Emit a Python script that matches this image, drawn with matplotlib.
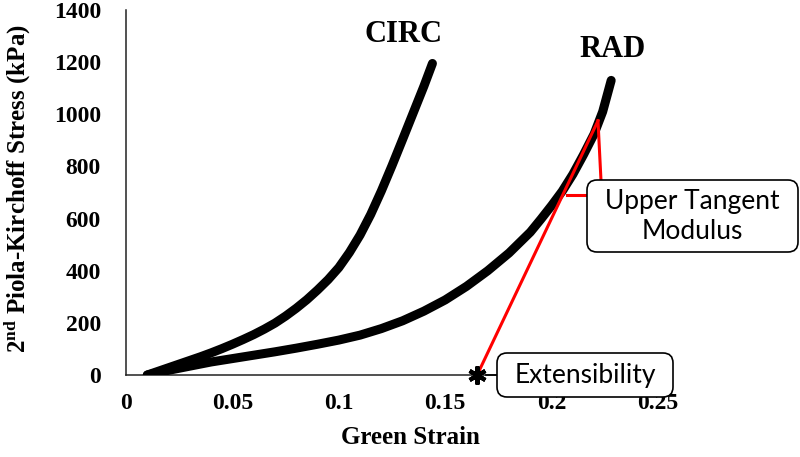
import numpy as np
import matplotlib
matplotlib.use('Agg')
import matplotlib.pyplot as plt
from matplotlib.patches import FancyBboxPatch

# values
circ_strain = [0.010, 0.015, 0.020, 0.025, 0.030, 0.035, 0.040, 0.045, 0.050,
               0.055, 0.060, 0.065, 0.070, 0.075, 0.080, 0.085, 0.090, 0.095,
               0.100, 0.105, 0.110, 0.115, 0.120, 0.125, 0.130, 0.135, 0.140,
               0.144]
circ_stress = [0, 14, 28, 42, 56, 70, 85, 101, 118,
               136, 155, 176, 199, 226, 256, 289, 326, 366,
               412, 470, 537, 616, 706, 803, 904, 1006, 1108,
               1195]

rad_strain = [0.010, 0.015, 0.020, 0.030, 0.040, 0.050, 0.060, 0.070, 0.080,
              0.090, 0.100, 0.110, 0.120, 0.130, 0.140, 0.150, 0.160, 0.170,
              0.180, 0.190, 0.195, 0.200, 0.205, 0.210, 0.215, 0.220, 0.224,
              0.228]
rad_stress = [0, 9, 18, 34, 50, 63, 76, 89, 103,
              118, 134, 153, 178, 208, 245, 288, 340, 400,
              468, 548, 598, 650, 705, 770, 845, 925, 1010,
              1130]

# upper tangent line and extensibility point
tangent_strain = [0.165, 0.2218]
tangent_stress = [0, 975]
extensibility = 0.165

x_ticks = [0, 0.05, 0.1, 0.15, 0.2, 0.25]
x_tick_labels = ['0', '0.05', '0.1', '0.15', '0.2', '0.25']
y_ticks = [0, 200, 400, 600, 800, 1000, 1200, 1400]

plt.rcParams['mathtext.fontset'] = 'custom'
plt.rcParams['mathtext.rm'] = 'Liberation Serif:bold'
plt.rcParams['mathtext.it'] = 'Liberation Serif:bold'
plt.rcParams['mathtext.bf'] = 'Liberation Serif:bold'

serif = {'family': 'Liberation Serif', 'weight': 'bold'}

fig = plt.figure(figsize=(8, 4.57), dpi=100)
ax = fig.add_axes([0.1575, 0.1794, 0.665, 0.7987])

# curves
ax.plot(circ_strain, circ_stress, color='black', lw=6.5, solid_capstyle='round',
        solid_joinstyle='round', zorder=3)
ax.plot(rad_strain, rad_stress, color='black', lw=6.5, solid_capstyle='round',
        solid_joinstyle='round', zorder=3)

# tangent + callout legs
ax.plot(tangent_strain, tangent_stress, color='red', lw=2.2, zorder=4)
ax.plot([0.2218, 0.2232], [975, 748], color='red', lw=2.2, zorder=4, clip_on=False)
ax.plot([0.2072, 0.2166], [690, 690], color='red', lw=2.2, zorder=4, clip_on=False)
ax.plot([extensibility + 0.004, 0.1743], [0, 0], color='black', lw=1.2, zorder=4, clip_on=False)
ax.plot([extensibility], [0], marker=(6, 2, 0), ms=13, mew=3, color='black', zorder=5, clip_on=False)

ax.set_xlim(0, 0.25)
ax.set_ylim(0, 1400)
ax.set_xticks(x_ticks)
ax.set_xticklabels(x_tick_labels)
ax.set_yticks(y_ticks)
ax.tick_params(length=0)
ax.tick_params(axis='x', pad=13)
ax.tick_params(axis='y', pad=18)
for lab in ax.get_xticklabels() + ax.get_yticklabels():
    lab.set_fontproperties(serif)
    lab.set_fontsize(17)

for s in ['top', 'right']:
    ax.spines[s].set_visible(False)
for s in ['left', 'bottom']:
    ax.spines[s].set_color('#222222')
    ax.spines[s].set_linewidth(1.1)

ax.set_xlabel('Green Strain', fontsize=18, **serif)
ax.xaxis.set_label_coords(0.534, -0.14)
ax.set_ylabel(r'2$^{\rm nd}$ Piola-Kirchoff Stress (kPa)', fontsize=18, **serif)
ax.yaxis.set_label_coords(-0.176, 0.51)

ax.text(0.1305, 1305, 'CIRC', fontsize=22, ha='center', va='center', **serif)
ax.text(0.2285, 1250, 'RAD', fontsize=22, ha='center', va='center', **serif)

# callout boxes (inches, so the corners stay round)
def callout(x0, y0, x1, y1, text):
    xi, yi = x0 / 100, (457 - y1) / 100
    w, h = (x1 - x0) / 100, (y1 - y0) / 100
    box = FancyBboxPatch((xi, yi), w, h, boxstyle='round,pad=0,rounding_size=0.1',
                         transform=fig.dpi_scale_trans, facecolor='white',
                         edgecolor='black', lw=1.2, zorder=10)
    fig.patches.append(box)
    fig.text(xi + w / 2, yi + h / 2, text, transform=fig.dpi_scale_trans,
             ha='center', va='center', fontsize=19, family='Lato',
             linespacing=1.25, zorder=11)

callout(587, 180, 798, 252, 'Upper Tangent\nModulus')
callout(497, 353, 673, 397, 'Extensibility')

fig.savefig('out.png', dpi=100)
